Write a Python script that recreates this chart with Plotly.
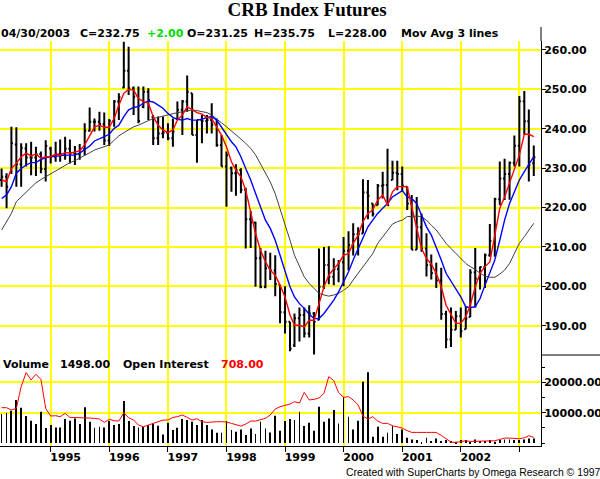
import plotly.graph_objects as go
import pandas as pd

# ---------------- data (monthly bars, Mar 1994 .. Apr 2003) ----------------
FIRST_MONTH = "1994-03-01"
LAST_DATE_TEXT = "04/30/2003"

opens = [227.0, 227.8, 229.0, 236.0, 231.0, 235.0, 232.7, 232.7, 233.6, 229.8,
         235.0, 232.9, 233.6, 233.6, 234.9, 233.8, 233.6, 234.8, 239.5, 241.8,
         241.8, 241.2, 237.0, 242.0, 246.9, 250.5, 254.7, 250.3, 248.1, 245.5,
         249.4, 243.0, 237.6, 238.8, 239.0, 237.6, 242.5, 244.8, 246.9, 249.0,
         238.4, 242.2, 242.0, 242.2, 241.0, 235.9, 230.4, 230.0, 228.7, 229.5,
         224.5, 217.0, 216.2, 207.1, 199.8, 204.6, 204.0, 200.4, 193.4, 191.0,
         185.0, 191.9, 192.7, 188.0, 193.1, 191.5, 199.9, 205.4, 202.4, 204.4,
         206.1, 209.0, 210.5, 213.2, 213.4, 223.8, 221.0, 220.6, 225.5, 225.7,
         227.0, 228.8, 228.5, 225.3, 221.0, 209.3, 215.0, 209.6, 205.4, 203.4,
         201.5, 193.0, 186.5, 189.0, 192.4, 189.1, 192.2, 203.5, 202.0, 204.9,
         207.9, 211.5, 222.1, 227.4, 228.5, 231.4, 235.7, 247.0, 241.9, 231.25]
highs = [229.9, 228.7, 240.5, 240.4, 236.3, 236.3, 236.7, 235.4, 234.2, 237.1,
         235.4, 236.7, 237.3, 238.0, 237.3, 235.6, 236.1, 241.4, 245.4, 242.6,
         244.3, 244.1, 242.5, 247.3, 249.0, 262.1, 260.8, 250.7, 250.7, 250.7,
         250.3, 243.5, 243.1, 243.1, 241.4, 242.6, 246.9, 247.3, 253.5, 249.0,
         242.2, 243.5, 243.5, 246.5, 242.6, 238.4, 234.2, 230.4, 231.0, 230.0,
         225.0, 219.1, 216.4, 209.7, 209.0, 208.5, 207.9, 200.4, 200.0, 191.0,
         193.1, 194.6, 194.6, 195.2, 193.5, 209.6, 210.0, 210.2, 207.1, 206.7,
         212.5, 214.0, 216.0, 215.0, 227.2, 227.0, 221.0, 226.0, 229.1, 234.9,
         231.9, 231.9, 230.4, 225.3, 223.2, 222.7, 218.5, 213.5, 208.1, 206.0,
         204.7, 193.8, 194.6, 193.7, 194.6, 195.0, 204.3, 209.7, 205.0, 208.3,
         215.8, 222.5, 231.7, 232.4, 231.7, 238.3, 248.3, 249.6, 244.9, 235.75]
lows = [225.3, 219.8, 228.5, 225.3, 225.3, 230.4, 228.2, 228.0, 228.7, 226.6,
        231.2, 231.6, 231.6, 232.1, 231.2, 230.8, 232.1, 233.3, 239.3, 239.3,
        239.5, 235.9, 235.6, 240.5, 242.2, 250.3, 248.6, 243.5, 241.4, 245.2,
        242.2, 235.9, 235.9, 237.6, 237.1, 235.4, 242.2, 238.4, 244.3, 238.4,
        231.4, 236.3, 238.8, 238.8, 235.4, 230.4, 220.2, 224.0, 223.0, 223.6,
        209.6, 209.7, 199.9, 199.5, 199.5, 201.6, 197.5, 190.6, 188.0, 183.5,
        184.6, 186.0, 187.0, 187.0, 182.7, 191.4, 199.3, 200.5, 200.3, 201.0,
        200.0, 204.1, 207.8, 207.8, 213.4, 217.0, 217.7, 220.6, 222.3, 220.6,
        227.0, 224.4, 224.0, 219.4, 209.3, 209.3, 208.8, 202.5, 201.7, 199.6,
        191.5, 184.3, 184.6, 189.0, 187.0, 189.1, 192.2, 194.6, 199.2, 199.6,
        207.5, 207.5, 220.6, 221.9, 222.0, 230.4, 230.4, 238.5, 226.6, 228.0]
closes = [227.8, 225.3, 236.3, 231.0, 235.2, 232.7, 232.7, 233.6, 229.8, 235.6,
          232.9, 233.6, 233.6, 234.9, 233.8, 233.6, 234.8, 239.5, 241.8, 241.8,
          241.2, 237.0, 242.0, 246.9, 248.0, 254.7, 250.3, 248.1, 242.0, 249.4,
          247.3, 237.6, 238.8, 239.0, 237.6, 239.3, 244.8, 246.9, 249.4, 238.4,
          242.2, 242.0, 242.2, 241.0, 235.9, 230.4, 233.3, 228.7, 229.5, 224.5,
          217.0, 216.2, 207.1, 199.8, 204.6, 204.0, 200.6, 193.4, 191.0, 184.2,
          191.9, 192.7, 188.0, 193.1, 191.0, 199.9, 205.4, 202.4, 204.4, 206.1,
          209.0, 210.5, 213.2, 213.2, 223.8, 223.0, 218.4, 225.5, 225.7, 220.6,
          228.8, 228.5, 225.5, 221.0, 209.3, 215.0, 209.6, 205.4, 203.4, 201.5,
          193.0, 186.5, 189.0, 192.4, 188.6, 191.8, 203.5, 202.0, 204.9, 207.9,
          211.5, 222.1, 227.4, 228.5, 231.4, 235.7, 247.0, 241.9, 230.75, 232.75]

ma_fast = [227.0, 226.6, 229.9, 231.2, 232.9, 233.8, 233.1, 233.6, 232.5, 232.9,
           232.9, 233.6, 233.3, 234.0, 233.8, 234.2, 234.4, 235.9, 238.4, 240.4,
           240.9, 240.4, 240.4, 242.6, 246.0, 249.0, 250.0, 249.8, 247.7, 246.9,
           246.5, 243.1, 240.9, 239.7, 239.0, 239.7, 242.2, 243.5, 245.6, 244.8,
           244.1, 243.7, 242.9, 242.6, 240.5, 238.4, 235.4, 231.6, 229.5, 227.8,
           224.4, 218.9, 213.4, 209.2, 206.2, 204.1, 202.8, 200.3, 197.3, 192.7,
           190.1, 190.1, 189.7, 191.4, 191.4, 195.6, 199.9, 202.8, 204.5, 205.8,
           207.9, 208.3, 210.9, 213.0, 216.4, 218.5, 219.4, 221.9, 223.2, 220.6,
           224.0, 225.3, 225.3, 225.3, 220.2, 215.1, 209.6, 207.1, 205.6, 203.3,
           199.9, 195.2, 192.7, 190.6, 190.6, 192.3, 195.2, 199.9, 203.3, 205.0,
           206.2, 213.0, 219.8, 222.7, 226.1, 229.5, 233.3, 238.6, 238.6, 238.0]
ma_mid = [222.3, 223.2, 225.3, 228.7, 229.9, 230.8, 231.4, 231.4, 232.2, 232.7,
          232.9, 233.1, 233.2, 233.3, 233.3, 233.3, 233.8, 234.6, 235.6, 236.9,
          237.4, 238.0, 238.6, 240.1, 240.9, 243.1, 244.8, 245.4, 245.6, 246.5,
          247.0, 246.8, 246.0, 245.2, 243.9, 242.9, 242.4, 242.2, 242.6, 242.2,
          242.2, 242.4, 242.9, 243.1, 242.2, 240.4, 238.8, 236.7, 235.4, 232.9,
          229.9, 227.0, 223.6, 220.2, 216.8, 214.7, 211.7, 207.9, 203.7, 199.9,
          197.3, 195.6, 194.4, 192.9, 191.8, 191.8, 193.1, 194.8, 196.5, 198.6,
          201.2, 203.7, 206.7, 209.6, 212.6, 215.1, 216.8, 218.5, 219.8, 221.0,
          222.7, 223.6, 224.3, 222.7, 222.3, 221.0, 218.1, 215.1, 213.0, 210.0,
          206.7, 203.3, 201.2, 199.5, 197.3, 194.8, 194.6, 194.8, 196.9, 200.3,
          203.3, 206.7, 211.7, 216.8, 221.0, 224.0, 227.0, 229.1, 230.8, 232.9]
ma_slow = [214.3, 216.4, 218.5, 221.5, 222.7, 224.0, 225.3, 226.3, 227.1, 227.8,
           228.5, 229.3, 229.9, 230.8, 231.4, 231.9, 232.5, 233.3, 233.9, 234.6,
           235.0, 235.3, 235.9, 237.1, 238.2, 239.0, 239.8, 240.5, 240.9, 241.5,
           242.0, 242.6, 242.9, 243.2, 243.7, 243.9, 244.1, 244.3, 244.6, 244.8,
           244.6, 244.3, 244.1, 243.5, 242.6, 241.5, 240.5, 239.5, 238.4, 237.4,
           236.3, 235.0, 233.4, 231.2, 228.7, 226.5, 223.5, 219.8, 215.5, 211.7,
           207.9, 205.0, 202.4, 200.7, 199.5, 198.2, 197.8, 197.5, 197.8, 198.2,
           199.0, 199.9, 201.6, 203.3, 205.0, 206.7, 208.3, 210.9, 212.6, 214.3,
           215.8, 216.4, 216.8, 217.7, 217.8, 217.8, 217.7, 216.8, 215.5, 214.3,
           212.6, 210.9, 209.6, 208.3, 207.1, 205.8, 205.0, 204.3, 203.3, 202.6,
           202.3, 202.3, 203.1, 204.1, 205.8, 208.3, 210.9, 212.6, 214.3, 216.0]

volume = [9560, 10000, 10660, 14180, 11650, 8900, 7360, 6260, 10330, 4950,
          5930, 5160, 5160, 7910, 7360, 8130, 6260, 11760, 7030, 5050,
          5380, 5160, 7250, 5930, 6260, 13850, 7250, 5600, 5160, 5380,
          5930, 6480, 5710, 2860, 6700, 4290, 5050, 7910, 7580, 7030,
          5930, 7580, 5930, 4510, 3410, 3410, 7250, 4290, 3740, 4510,
          2640, 4840, 2970, 7030, 4840, 3520, 9010, 4070, 7250, 7910,
          7580, 10330, 5600, 6700, 4070, 11980, 7030, 8130, 10880, 6480,
          15270, 8680, 4510, 7360, 20220, 23300, 2090, 5380, 2090, 3410,
          5600, 2970, 4510, 1760, 1210, 990, 300, 1760, 660, 1540,
          660, 990, 660, 440, 990, 990, 440, 1210, 660, 660,
          990, 440, 990, 1210, 1210, 990, 990, 1210, 1540, 1498]
open_interest = [11650, 11650, 10880, 11430, 18570, 23190, 20770, 22640, 20990, 11430,
                 8900, 9010, 8680, 9780, 8460, 8460, 8350, 8350, 8240, 8130,
                 7910, 6810, 7800, 7360, 7250, 10000, 8350, 7580, 5930, 5380,
                 5930, 6700, 7250, 7580, 7580, 8460, 8680, 9230, 8460, 7580,
                 8020, 7030, 6810, 7030, 7030, 7030, 6920, 6480, 6040, 5600,
                 6260, 7250, 7250, 7580, 8130, 9230, 11210, 11980, 12420, 12860,
                 13630, 13190, 16700, 14180, 14400, 14840, 16370, 21870, 20550, 16590,
                 15050, 15270, 14180, 12530, 8900, 7910, 8680, 7250, 6480, 6480,
                 5710, 5380, 4950, 4070, 3520, 3520, 3410, 3520, 3520, 3520,
                 2530, 1320, 330, 220, 550, 770, 550, 550, 550, 660,
                 660, 770, 1210, 1650, 1650, 1650, 1430, 1760, 2420, 1870]
OPEN_INTEREST_LAST = 708.00

year_ticks = ["1995-01-01", "1996-01-01", "1997-01-01", "1998-01-01", "1999-01-01",
              "2000-01-01", "2001-01-01", "2002-01-01", "2003-01-01"]
year_labels = ["1995", "1996", "1997", "1998", "1999", "2000", "2001", "2002", ""]
price_ticks = [190, 200, 210, 220, 230, 240, 250, 260]
volume_ticks = [10000, 20000]

months = pd.date_range(FIRST_MONTH, periods=len(closes), freq="MS")

# ---------------- layout geometry ----------------
W, H = 600, 479
ML, MR, MT, MB = 0, 59, 41, 33
PW, PH = W - ML - MR, H - MT - MB


def px(x):
    return (x - ML) / PW


def py(y):
    return 1 - (y - MT) / PH


SPLIT = py(355)
YELLOW = "#ffff00"
FONT = "DejaVu Sans"
axis_font = dict(family=FONT, size=11, color="black", weight="bold")

fig = go.Figure()

fig.add_trace(go.Bar(x=months, y=volume, xaxis="x2", yaxis="y2",
                     marker=dict(color="black", line=dict(width=0)),
                     width=5 * 86400000))
fig.add_trace(go.Scatter(x=months, y=open_interest, xaxis="x2", yaxis="y2",
                         mode="lines", line=dict(color="#ff0000", width=1)))

fig.add_trace(go.Ohlc(x=months, open=opens, high=highs, low=lows, close=closes,
                      xaxis="x", yaxis="y", tickwidth=0.35,
                      increasing=dict(line=dict(color="black", width=2)),
                      decreasing=dict(line=dict(color="black", width=2))))
fig.add_trace(go.Scatter(x=months, y=ma_slow, mode="lines",
                         line=dict(color="#404040", width=1)))
fig.add_trace(go.Scatter(x=months, y=ma_mid, mode="lines",
                         line=dict(color="#0000ff", width=1.4)))
fig.add_trace(go.Scatter(x=months, y=ma_fast, mode="lines",
                         line=dict(color="#ff0000", width=1.4)))

xcommon = dict(type="date", range=["1994-02-19", "2003-05-16"],
               showgrid=True, gridcolor=YELLOW, gridwidth=2,
               tickvals=year_ticks, zeroline=False, automargin=False)

fig.update_layout(
    width=W, height=H,
    margin=dict(l=ML, r=MR, t=MT, b=MB, pad=0),
    paper_bgcolor="white", plot_bgcolor="white",
    showlegend=False, hovermode=False,
    xaxis=dict(**xcommon, domain=[0, 1], anchor="y", showticklabels=False,
               ticks="", rangeslider=dict(visible=False)),
    xaxis2=dict(**xcommon, domain=[0, 1], anchor="y2", matches="x",
                ticktext=year_labels, ticks="outside", ticklen=5, tickcolor="black",
                showline=True, linecolor="black", linewidth=1,
                tickfont=axis_font, ticklabelshift=15, ticklabelstandoff=-4),
    yaxis=dict(domain=[SPLIT, 1], anchor="x", side="right", automargin=False,
               range=[182.56, 262.28], tickvals=price_ticks, tickformat=".2f",
               showgrid=True, gridcolor=YELLOW, gridwidth=2, zeroline=False,
               ticks="outside", ticklen=4, tickcolor="black", ticklabelstandoff=-4,
               showline=True, linecolor="black", linewidth=1, tickfont=axis_font),
    yaxis2=dict(domain=[0, SPLIT], anchor="x2", side="right", automargin=False,
                range=[-954, 28980], tickvals=volume_ticks, tickformat=".2f",
                showgrid=True, gridcolor=YELLOW, gridwidth=2, zeroline=False,
                ticks="outside", ticklen=4, tickcolor="black", ticklabelstandoff=-4,
                minor=dict(dtick=5000, ticks="outside", ticklen=3, tickcolor="black",
                           showgrid=False),
                showline=True, linecolor="black", linewidth=1, tickfont=axis_font),
    title=dict(text="CRB Index Futures", x=307 / W, y=1 - 9 / H,
               xanchor="center", yanchor="middle", xref="container",
               font=dict(family="Liberation Serif", size=19, color="black", weight="bold")),
)

fig.add_shape(type="line", xref="paper", yref="paper", x0=1, x1=1,
              y0=1, y1=py(27), line=dict(color="black", width=1))
fig.add_shape(type="line", xref="paper", yref="paper", x0=1, x1=px(W + 5),
              y0=SPLIT, y1=SPLIT, line=dict(color="black", width=1))

change = closes[-1] - closes[-2]
header = [
    (35.5, LAST_DATE_TEXT, "black"),
    (110, f"C={closes[-1]:.2f}", "black"),
    (165, f"{change:+.2f}", "#00dd00"),
    (217.5, f"O={opens[-1]:.2f}", "black"),
    (284, f"H={highs[-1]:.2f}", "black"),
    (357, f"L={lows[-1]:.2f}", "black"),
    (449.5, "Mov Avg 3 lines", "black"),
]
for x, txt, col in header:
    fig.add_annotation(x=px(x), y=py(33.3), xref="paper", yref="paper", text=txt,
                       showarrow=False, xanchor="center", yanchor="middle",
                       font=dict(family=FONT, size=11, color=col, weight="bold"))

vol_row = [
    (26, "Volume", "black"),
    (84.5, f"{volume[-1]:.2f}", "black"),
    (165.5, "Open Interest", "black"),
    (242, f"{OPEN_INTEREST_LAST:.2f}", "#ff0000"),
]
for x, txt, col in vol_row:
    fig.add_annotation(x=px(x), y=py(364.3), xref="paper", yref="paper", text=txt,
                       showarrow=False, xanchor="center", yanchor="middle",
                       font=dict(family=FONT, size=11, color=col, weight="bold"))

fig.add_annotation(x=px(602), y=py(472.7), xref="paper", yref="paper",
                   text="Created with SuperCharts by Omega Research © 1997",
                   showarrow=False, xanchor="right", yanchor="middle",
                   font=dict(family="Liberation Sans", size=10.4, color="black"))

fig.write_html("out.html", config={"displayModeBar": False},
               post_script="document.body.style.margin='0';")
